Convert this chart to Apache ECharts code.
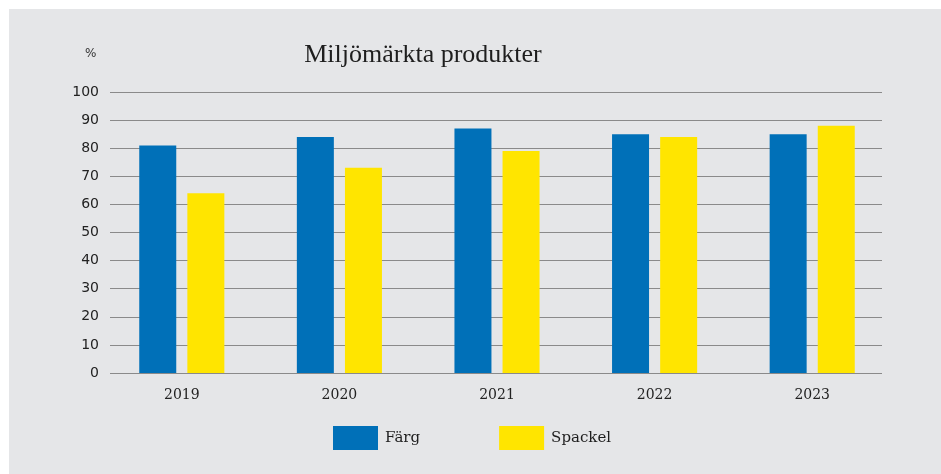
<!DOCTYPE html>
<html>
<head>
<meta charset="utf-8">
<script src="https://cdn.jsdelivr.net/npm/echarts@6/dist/echarts.min.js"></script>
<style>
  html, body { margin: 0; padding: 0; background: #fff; }
  #panel { position: absolute; left: 9px; top: 9px; width: 932px; height: 465px; background: #e5e6e8; }
  #main { position: absolute; left: 0; top: 0; width: 941px; height: 474px; }
</style>
</head>
<body>
<div id="panel"></div>
<div id="main"></div>
<script>
var years = ['2019', '2020', '2021', '2022', '2023'];
var farg = [81, 84, 87, 85, 85];
var spackel = [64, 73, 79, 84, 88];
var yTicks = { min: 0, max: 100, interval: 10 };

var myChart = echarts.init(document.getElementById('main'));
myChart.setOption({
    backgroundColor: 'transparent',
    animation: false,
    title: {
        text: 'Miljömärkta produkter',
        left: 418,
        textAlign: 'center',
        top: 37,
        textStyle: { fontFamily: 'Liberation Serif', fontSize: 26, fontWeight: 'normal', color: '#1e1e1e' }
    },
    graphic: [{
        type: 'text',
        left: 85,
        top: 48,
        style: { text: '%', fontFamily: 'DejaVu Sans', fontSize: 12, fill: '#333' }
    }],
    legend: {
        left: 328,
        top: 421,
        itemWidth: 45,
        itemHeight: 24,
        itemGap: 79,
        icon: 'rect',
        textStyle: { fontFamily: 'DejaVu Serif', fontSize: 15, color: '#1e1e1e', padding: [0, 0, 0, 2] },
        data: ['Färg', 'Spackel']
    },
    grid: [
        { left: 103, right: 50, top: 92, bottom: 101 },
        { left: 110, right: 59, top: 92, bottom: 101 }
    ],
    xAxis: [
        {
            type: 'category', gridIndex: 0, data: years,
            axisLine: { show: false }, axisTick: { show: false },
            axisLabel: { margin: 15, fontFamily: 'DejaVu Serif', fontSize: 14, color: '#222' }
        },
        { type: 'value', gridIndex: 1, min: 0, max: 1, show: false }
    ],
    yAxis: [
        { type: 'value', gridIndex: 0, min: yTicks.min, max: yTicks.max, interval: yTicks.interval, show: false },
        {
            type: 'value', gridIndex: 1, min: yTicks.min, max: yTicks.max, interval: yTicks.interval,
            axisLine: { show: false }, axisTick: { show: false },
            axisLabel: { margin: 11, fontFamily: 'DejaVu Sans', fontSize: 14, color: '#222' },
            splitLine: { lineStyle: { color: '#8a8a8a', width: 1 } }
        }
    ],
    series: [
        {
            name: 'Färg', type: 'bar', xAxisIndex: 0, yAxisIndex: 0,
            data: farg, barWidth: 37, barGap: '30%',
            itemStyle: { color: '#0070b8' }
        },
        {
            name: 'Spackel', type: 'bar', xAxisIndex: 0, yAxisIndex: 0,
            data: spackel, barWidth: 37,
            itemStyle: { color: '#ffe500' }
        }
    ]
});
</script>
</body>
</html>
